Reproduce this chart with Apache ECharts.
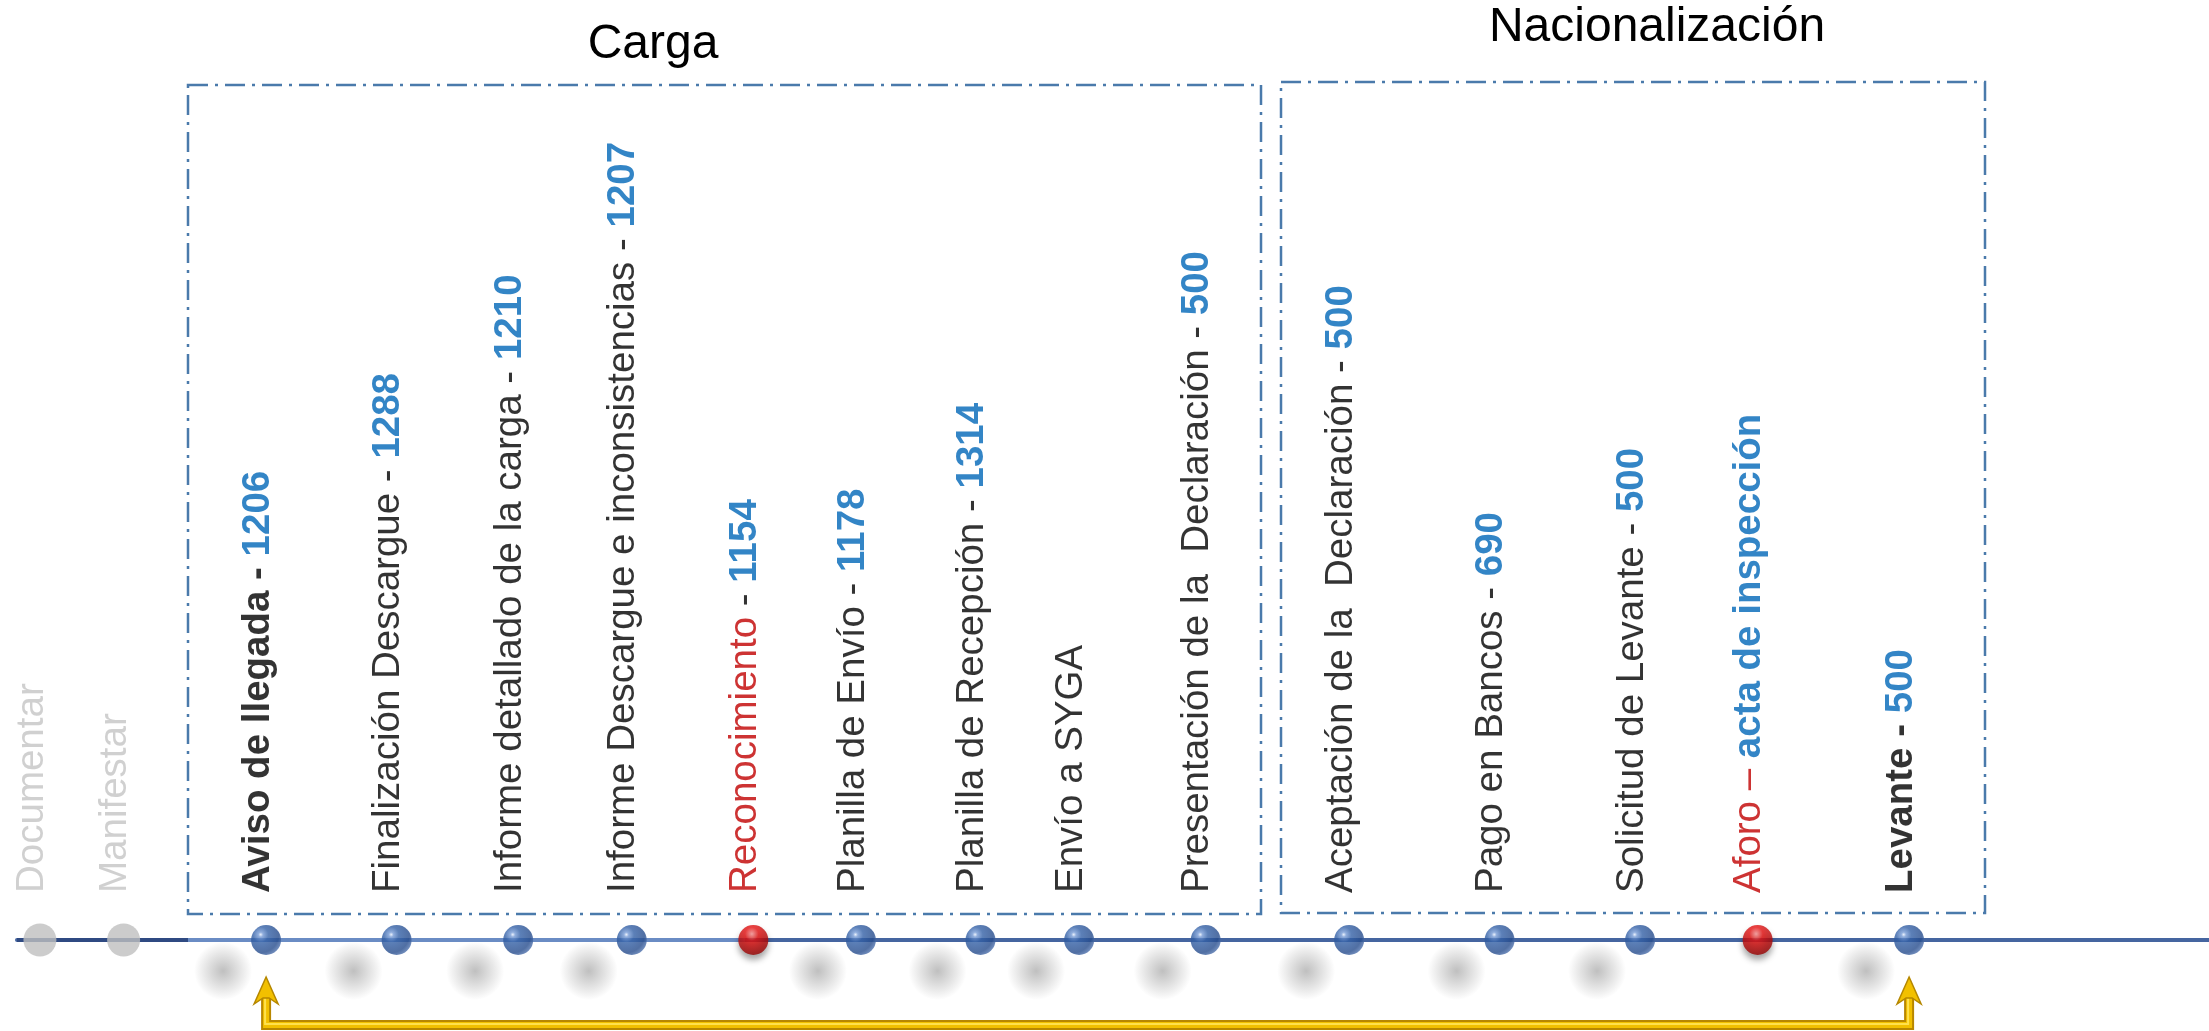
<!DOCTYPE html>
<html>
<head>
<meta charset="utf-8">
<title>Carga y Nacionalización</title>
<script src="https://cdn.jsdelivr.net/npm/echarts@6/dist/echarts.min.js"></script>
<style>
  html, body { margin: 0; padding: 0; background: #fff; }
  #chart { width: 2209px; height: 1031px; }
</style>
</head>
<body>
<div id="chart"></div>
<script>
// pasos del proceso, en orden sobre la línea de tiempo
const stepNames = ['Documentar', 'Manifestar', 'Aviso de llegada', 'Finalización Descargue',
  'Informe detallado de la carga', 'Informe Descargue e inconsistencias', 'Reconocimiento',
  'Planilla de Envío', 'Planilla de Recepción', 'Envío a SYGA', 'Presentación de la  Declaración',
  'Aceptación de la  Declaración', 'Pago en Bancos', 'Solicitud de Levante', 'Aforo', 'Levante'];
// posición de cada paso sobre la línea
const stepAt = [0.23, 1.07, 2.50, 3.81, 5.03, 6.17, 7.39, 8.47, 9.67, 10.66, 11.93, 13.37, 14.88, 16.29, 17.47, 18.99];
// número de formulario / documento de cada paso
const stepCodes = [null, null, 1206, 1288, 1210, 1207, 1154, 1178, 1314, null, 500, 500, 690, 500, 'acta de inspección', 500];
// previo = antes del arribo, hito = inicio / fin, inspeccion = control físico
const stepTypes = ['previo', 'previo', 'hito', 'paso', 'paso', 'paso', 'inspeccion', 'paso',
  'paso', 'paso', 'paso', 'paso', 'paso', 'paso', 'inspeccion', 'hito'];

const FONT = '"Liberation Sans", Arial, sans-serif';
const FS = 38.5;

const rich = {
  muted: { color: '#c4c4c4', fontSize: FS, fontFamily: FONT },
  plain: { color: '#000', fontSize: FS, fontFamily: FONT },
  strong: { color: '#000', fontSize: FS, fontFamily: FONT, fontWeight: 'bold' },
  alert: { color: '#c00000', fontSize: FS, fontFamily: FONT },
  code: { color: '#0066b8', fontSize: FS, fontFamily: FONT, fontWeight: 'bold' }
};

function stepLabel(p) {
  const i = p.value[2];
  const name = stepNames[i], code = stepCodes[i], type = stepTypes[i];
  if (type === 'previo') return '{muted|' + name + '}';
  if (code == null) return '{plain|' + name + '}';
  if (type === 'hito') return '{strong|' + name + ' - }{code|' + code + '}';
  if (type === 'inspeccion') {
    if (typeof code === 'string') return '{alert|' + name + ' – }{code|' + code + '}';
    return '{alert|' + name + '}{plain| - }{code|' + code + '}';
  }
  return '{plain|' + name + ' - }{code|' + code + '}';
}

function labelFor(size) {
  return {
    show: true,
    formatter: stepLabel,
    rich: rich,
    rotate: 90,
    align: 'left',
    verticalAlign: 'middle',
    position: [size / 2 - 8, size / 2 - 47],
    fontFamily: FONT,
    fontSize: FS
  };
}

function pick(types) {
  const out = [];
  stepAt.forEach((x, i) => {
    if (types.indexOf(stepTypes[i]) >= 0) out.push([x, 0, i]);
  });
  return out;
}

const blueBall = new echarts.graphic.RadialGradient(0.32, 0.32, 0.8, [
  { offset: 0, color: '#e6eefb' },
  { offset: 0.1, color: '#7499d4' },
  { offset: 0.32, color: '#3360a6' },
  { offset: 0.75, color: '#254b8c' },
  { offset: 1, color: '#5d7fb8' }
]);
const redBall = new echarts.graphic.RadialGradient(0.45, 0.3, 0.75, [
  { offset: 0, color: '#ff9a9a' },
  { offset: 0.3, color: '#e81414' },
  { offset: 1, color: '#8c0000' }
]);
const blur = new echarts.graphic.RadialGradient(0.5, 0.5, 0.5, [
  { offset: 0, color: 'rgba(110,110,110,0.55)' },
  { offset: 1, color: 'rgba(110,110,110,0)' }
]);

const chart = echarts.init(document.getElementById('chart'));

chart.setOption({
  animation: false,
  backgroundColor: '#fff',
  grid: { left: 17, right: 0, top: 890, height: 100 },
  xAxis: {
    type: 'value', min: 0, max: 22,
    axisLine: { onZero: true, lineStyle: { color: '#4565a0', width: 4 } },
    axisTick: { show: false }, axisLabel: { show: false }, splitLine: { show: false }
  },
  yAxis: { type: 'value', min: -1, max: 1, show: false },
  series: [
    {
      // reflejo difuso bajo cada paso
      type: 'scatter', silent: true, clip: false, z: 1,
      data: pick(['paso', 'hito']),
      symbolSize: 58, symbolOffset: [-43, 31],
      itemStyle: { color: blur }
    },
    {
      type: 'scatter', clip: false, z: 3,
      data: pick(['previo']),
      symbolSize: 33,
      itemStyle: { color: '#bfbfbf' },
      label: labelFor(33)
    },
    {
      type: 'scatter', clip: false, z: 3,
      data: pick(['paso', 'hito']),
      symbolSize: 30,
      itemStyle: { color: blueBall },
      label: labelFor(30)
    },
    {
      type: 'scatter', clip: false, z: 3,
      data: pick(['inspeccion']),
      symbolSize: 30,
      itemStyle: { color: redBall, shadowBlur: 6, shadowOffsetY: 5, shadowColor: 'rgba(0,0,0,0.45)' },
      label: labelFor(30)
    }
  ]
});

// flecha de retorno entre el aviso de llegada y el levante
const xa = chart.convertToPixel({ gridIndex: 0 }, [stepAt[2], 0])[0];
const xb = chart.convertToPixel({ gridIndex: 0 }, [stepAt[15], 0])[0];
const head = x => [[x, 977], [x + 12, 1004], [x + 3, 998], [x - 3, 998], [x - 12, 1004]];
const path = [[xa, 998], [xa, 1025], [xb, 1025], [xb, 998]];
const boxStyle = { fill: 'none', stroke: '#4a7aab', lineWidth: 2.5, lineDash: [20, 7, 3, 7] };

chart.setOption({
  graphic: [
    { type: 'line', z: 1, shape: { x1: 17, y1: 940, x2: 188, y2: 940 }, style: { stroke: '#2f4a82', lineWidth: 4 } },
    { type: 'line', z: 1, shape: { x1: 188, y1: 940, x2: 745, y2: 940 }, style: { stroke: '#6a8cc4', lineWidth: 4 } },
    { type: 'rect', z: 1, shape: { x: 188, y: 85, width: 1073, height: 829 }, style: boxStyle },
    { type: 'rect', z: 1, shape: { x: 1281, y: 82, width: 704, height: 831 }, style: boxStyle },
    { type: 'text', z: 1, x: 653, y: 45, style: { text: 'Carga', fontSize: 48, fontFamily: FONT, fill: '#000', align: 'center', verticalAlign: 'middle' } },
    { type: 'text', z: 1, x: 1657, y: 28, style: { text: 'Nacionalización', fontSize: 48, fontFamily: FONT, fill: '#000', align: 'center', verticalAlign: 'middle' } },
    { type: 'polyline', z: 1, shape: { points: path }, style: { stroke: '#b88700', lineWidth: 10, fill: null } },
    { type: 'polyline', z: 1, shape: { points: path }, style: { stroke: '#f2c000', lineWidth: 6, fill: null } },
    { type: 'polyline', z: 1, shape: { points: path.map(p => [p[0] - 1, p[1] - 1]) }, style: { stroke: '#ffe14d', lineWidth: 2, fill: null } },
    { type: 'polygon', z: 1, shape: { points: head(xa) }, style: { fill: '#f2c000', stroke: '#b58700', lineWidth: 1.5 } },
    { type: 'polygon', z: 1, shape: { points: head(xb) }, style: { fill: '#f2c000', stroke: '#b58700', lineWidth: 1.5 } }
  ]
});
</script>
</body>
</html>
